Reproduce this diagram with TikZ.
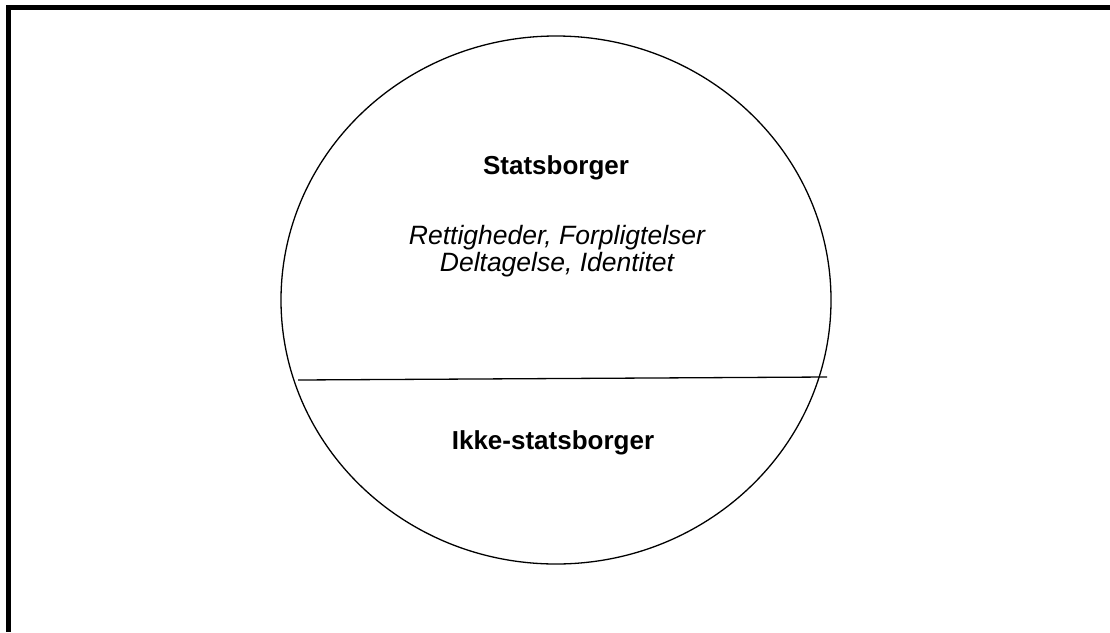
\documentclass[tikz,border=0pt]{standalone}
\usepackage{fontspec}
\setmainfont{Liberation Sans}
\usetikzlibrary{positioning,shapes.geometric}

\begin{document}
\begin{tikzpicture}[x=1pt,y=-1pt,
    frame/.style={line width=5pt,black},
    group/.style={draw,line width=1.3pt,ellipse,inner sep=0pt},
    title/.style={font=\fontsize{26}{30}\selectfont\bfseries,align=center},
    note/.style={font=\fontsize{26.5}{27.5}\selectfont\itshape,align=center},
    divider/.style={line width=1.3pt}]
  \useasboundingbox (0,0) rectangle (1110,632);
  % frame (only top and left edges show)
  \coordinate (tl) at (8.5,7.5);
  \coordinate (tr) at (1110,7.5);
  \coordinate (bl) at (8.5,632);
  \draw[frame] (tr) -- (tl) -- (bl);

  \node[group, minimum width=550pt, minimum height=528pt] (circ) at (556,300) {};
  \coordinate (divL) at (298,380);
  \coordinate (divR) at (827,377);
  \draw[divider] (divL) -- (divR);

  \node[title] (citizen) at (556,168) {Statsborger};
  \node[note] (traits) at (557,251) {Rettigheder, Forpligtelser\\Deltagelse, Identitet};
  \node[title] (noncitizen) at (553,443) {Ikke-statsborger};
\end{tikzpicture}
\end{document}
